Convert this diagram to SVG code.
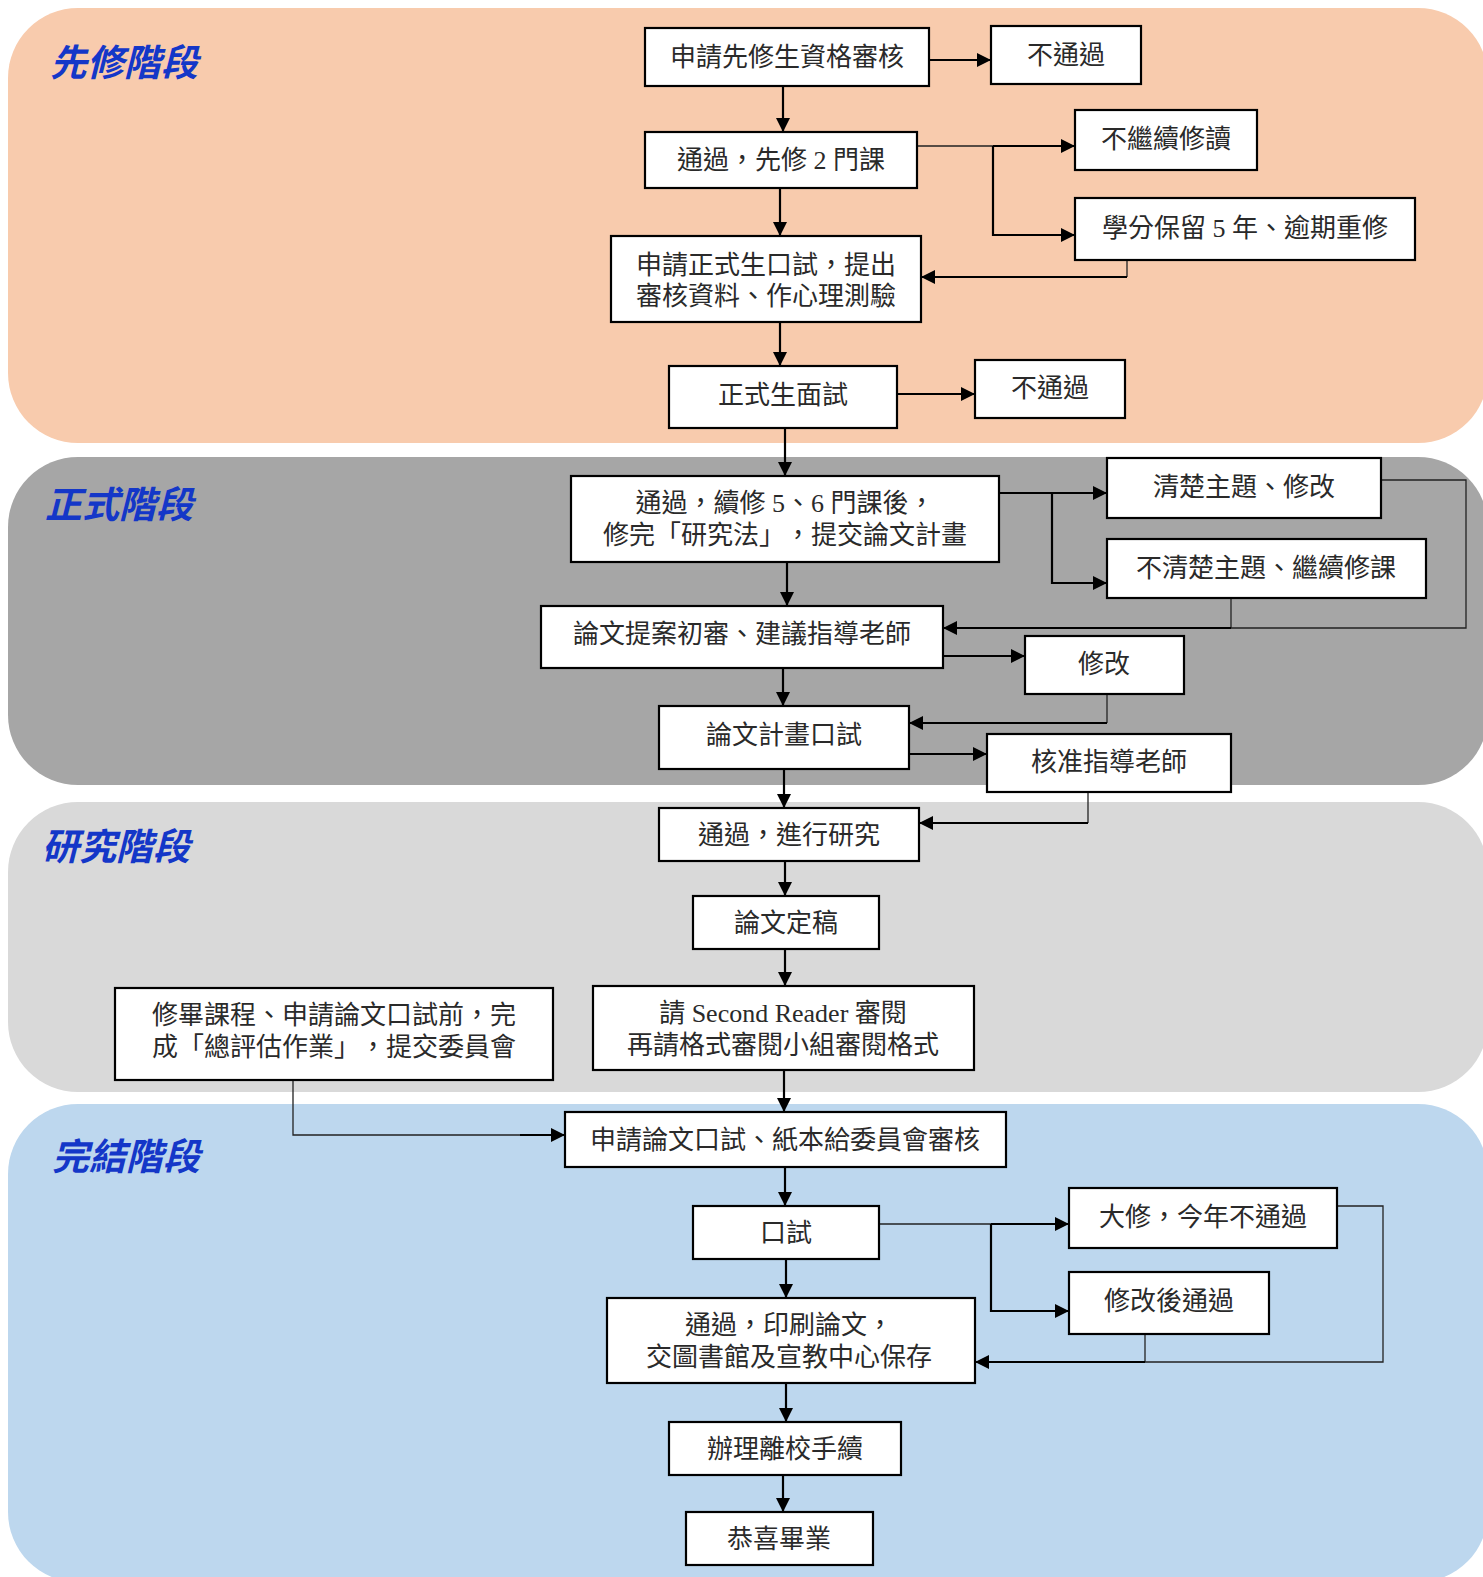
<svg xmlns="http://www.w3.org/2000/svg" width="1483" height="1577" viewBox="0 0 1483 1577">
<defs>
<marker id="ah" viewBox="0 0 10 10" refX="10" refY="5" markerWidth="16" markerHeight="14" markerUnits="userSpaceOnUse" orient="auto">
<path d="M0,0 L10,5 L0,10 z" fill="#000"/>
</marker>
<style>
.panel{stroke:none}
.stage{font-family:"Noto Sans CJK TC","Noto Sans CJK SC",sans-serif;font-size:37px;font-weight:bold;font-style:italic;fill:#1437c8}
.box rect{fill:#fff;stroke:#000;stroke-width:2.2}
.box text{font-family:"Liberation Serif","Noto Sans CJK TC",serif;font-size:26px;fill:#2a2a2a;text-anchor:middle;text-spacing-trim:space-all}
.c{fill:none;stroke:#000;stroke-width:2.2}
.t{fill:none;stroke:#222;stroke-width:1.3}
.a{marker-end:url(#ah)}
</style>
</defs>
<g id="panels">
<rect class="panel" x="8" y="8" width="1480" height="435" rx="70" fill="#f8cbad"/>
<rect class="panel" x="8" y="457" width="1480" height="328" rx="70" fill="#a6a6a6"/>
<rect class="panel" x="8" y="802" width="1480" height="290" rx="70" fill="#d9d9d9"/>
<rect class="panel" x="8" y="1104" width="1480" height="478" rx="70" fill="#bdd7ee"/>
<text class="stage" x="50" y="76">先修階段</text>
<text class="stage" x="45" y="518">正式階段</text>
<text class="stage" x="42" y="860">研究階段</text>
<text class="stage" x="52" y="1170">完結階段</text>
</g>
<g id="connectors">
<path class="c a" d="M783,86 V132"/>
<path class="c a" d="M929,60 H991"/>
<path class="t" d="M917,146 H993"/>
<path class="c a" d="M993,146 H1075"/>
<path class="c a" d="M993,146 V235 H1075"/>
<path class="c a" d="M780,188 V236"/>
<path class="t" d="M1127,260 V277"/>
<path class="c a" d="M1127,277 H921"/>
<path class="c a" d="M780,322 V366"/>
<path class="c a" d="M897,394 H975"/>
<path class="c a" d="M785,428 V476"/>
<path class="c a" d="M999,493 H1107"/>
<path class="c a" d="M1052,493 V583 H1107"/>
<path class="t" d="M1381,480 H1466 V628 H1231"/>
<path class="t" d="M1231,598 V628"/>
<path class="c a" d="M1231,628 H943"/>
<path class="c a" d="M787,562 V606"/>
<path class="c a" d="M943,656 H1025"/>
<path class="c a" d="M783,668 V706"/>
<path class="t" d="M1107,694 V723"/>
<path class="c a" d="M1107,723 H909"/>
<path class="c a" d="M909,754 H987"/>
<path class="c a" d="M784,769 V808"/>
<path class="t" d="M1088,792 V823"/>
<path class="c a" d="M1088,823 H919"/>
<path class="c a" d="M785,861 V896"/>
<path class="c a" d="M785,949 V986"/>
<path class="c a" d="M784,1070 V1112"/>
<path class="t" d="M293,1080 V1135 H520"/>
<path class="c a" d="M520,1135 H565"/>
<path class="c a" d="M785,1167 V1206"/>
<path class="t" d="M879,1224 H991"/>
<path class="c a" d="M991,1224 H1069"/>
<path class="c a" d="M991,1224 V1311 H1069"/>
<path class="t" d="M1337,1206 H1383 V1362 H1145"/>
<path class="t" d="M1145,1334 V1362"/>
<path class="c a" d="M1145,1362 H975"/>
<path class="c a" d="M786,1259 V1298"/>
<path class="c a" d="M786,1383 V1422"/>
<path class="c a" d="M783,1475 V1512"/>
</g>
<g id="n1" class="box"><rect x="645" y="28" width="284" height="58"/><text x="787" y="66">申請先修生資格審核</text></g>
<g id="n2" class="box"><rect x="991" y="26" width="150" height="58"/><text x="1066" y="64">不通過</text></g>
<g id="n3" class="box"><rect x="645" y="132" width="272" height="56"/><text x="781" y="169">通過，先修 2 門課</text></g>
<g id="n4" class="box"><rect x="1075" y="110" width="182" height="60"/><text x="1166" y="148">不繼續修讀</text></g>
<g id="n5" class="box"><rect x="1075" y="198" width="340" height="62"/><text x="1245" y="237">學分保留 5 年、逾期重修</text></g>
<g id="n6" class="box"><rect x="611" y="236" width="310" height="86"/><text x="766" y="274">申請正式生口試，提出</text><text x="766" y="305">審核資料、作心理測驗</text></g>
<g id="n7" class="box"><rect x="669" y="366" width="228" height="62"/><text x="783" y="404">正式生面試</text></g>
<g id="n8" class="box"><rect x="975" y="360" width="150" height="58"/><text x="1050" y="397">不通過</text></g>
<g id="n9" class="box"><rect x="571" y="476" width="428" height="86"/><text x="785" y="512">通過，續修 5、6 門課後，</text><text x="785" y="544">修完「研究法」，提交論文計畫</text></g>
<g id="n10" class="box"><rect x="1107" y="458" width="274" height="60"/><text x="1244" y="496">清楚主題、修改</text></g>
<g id="n11" class="box"><rect x="1107" y="539" width="319" height="59"/><text x="1266" y="577">不清楚主題、繼續修課</text></g>
<g id="n12" class="box"><rect x="541" y="606" width="402" height="62"/><text x="742" y="643">論文提案初審、建議指導老師</text></g>
<g id="n13" class="box"><rect x="1025" y="636" width="159" height="58"/><text x="1104" y="673">修改</text></g>
<g id="n14" class="box"><rect x="659" y="706" width="250" height="63"/><text x="784" y="744">論文計畫口試</text></g>
<g id="n15" class="box"><rect x="987" y="734" width="244" height="58"/><text x="1109" y="771">核准指導老師</text></g>
<g id="n16" class="box"><rect x="659" y="808" width="260" height="53"/><text x="789" y="844">通過，進行研究</text></g>
<g id="n17" class="box"><rect x="693" y="896" width="186" height="53"/><text x="786" y="932">論文定稿</text></g>
<g id="n18" class="box"><rect x="593" y="986" width="381" height="84"/><text x="783" y="1022">請 Second Reader 審閱</text><text x="783" y="1054">再請格式審閱小組審閱格式</text></g>
<g id="n19" class="box"><rect x="115" y="988" width="438" height="92"/><text x="334" y="1024">修畢課程、申請論文口試前，完</text><text x="334" y="1056">成「總評估作業」，提交委員會</text></g>
<g id="n20" class="box"><rect x="565" y="1112" width="441" height="55"/><text x="785" y="1149">申請論文口試、紙本給委員會審核</text></g>
<g id="n21" class="box"><rect x="693" y="1206" width="186" height="53"/><text x="786" y="1242">口試</text></g>
<g id="n22" class="box"><rect x="1069" y="1188" width="268" height="60"/><text x="1203" y="1226">大修，今年不通過</text></g>
<g id="n23" class="box"><rect x="1069" y="1272" width="200" height="62"/><text x="1169" y="1310">修改後通過</text></g>
<g id="n24" class="box"><rect x="607" y="1298" width="368" height="85"/><text x="789" y="1334">通過，印刷論文，</text><text x="789" y="1366">交圖書館及宣教中心保存</text></g>
<g id="n25" class="box"><rect x="669" y="1422" width="232" height="53"/><text x="785" y="1458">辦理離校手續</text></g>
<g id="n26" class="box"><rect x="686" y="1512" width="187" height="53"/><text x="779" y="1548">恭喜畢業</text></g>
</svg>
